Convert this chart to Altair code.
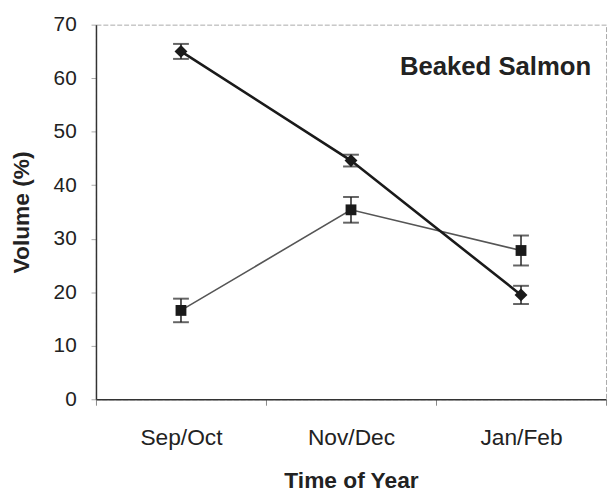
import altair as alt
import pandas as pd

periods = ["Sep/Oct", "Nov/Dec", "Jan/Feb"]
diamond_mean = [65.0, 44.6, 19.5]
diamond_err = [1.4, 1.1, 1.7]
square_mean = [16.6, 35.4, 27.8]
square_err = [2.2, 2.4, 2.8]
y_ticks = [0, 10, 20, 30, 40, 50, 60, 70]
label_text = "Beaked Salmon"

FONT = "Liberation Sans"


def frame(mean, err):
    return pd.DataFrame({
        "period": periods,
        "mean": mean,
        "lo": [m - e for m, e in zip(mean, err)],
        "hi": [m + e for m, e in zip(mean, err)],
    })


x_enc = alt.X(
    "period:N",
    sort=periods,
    scale=alt.Scale(type="band", paddingInner=0, paddingOuter=0),
    axis=alt.Axis(
        title="Time of Year",
        labelAngle=0,
        tickBand="extent",
        tickSize=6,
        tickColor="#888",
        domainColor="#333",
        domainWidth=1.5,
        labelFont=FONT,
        labelFontSize=23,
        labelColor="#222",
        labelBaseline="alphabetic",
        labelPadding=40,
        titleFont=FONT,
        titleFontSize=23,
        titleFontWeight="bold",
        titleColor="#222",
        titleY=89,
        titleBaseline="alphabetic",
        grid=False,
    ),
)

y_scale = alt.Scale(domain=[0, 70], nice=False)
y_axis = alt.Axis(
    values=y_ticks,
    title="Volume (%)",
    tickSize=5,
    tickColor="#aaa",
    domainColor="#333",
    domainWidth=1.5,
    labelFont=FONT,
    labelFontSize=21,
    labelColor="#222",
    labelPadding=15,
    titleFont=FONT,
    titleFontSize=23,
    titleFontWeight="bold",
    titleColor="#222",
    titleAngle=270,
    titleX=-75,
    titleY=189.5,
    titleBaseline="middle",
    titleAlign="center",
    grid=False,
)


def series(mean, err, shape, size, line_color, line_width):
    df = frame(mean, err)
    base = alt.Chart(df)
    line = base.mark_line(color=line_color, strokeWidth=line_width).encode(
        x=x_enc, y=alt.Y("mean:Q", scale=y_scale, axis=y_axis)
    )
    rule = base.mark_rule(color="#222", strokeWidth=1.5).encode(
        x=x_enc, y=alt.Y("lo:Q", scale=y_scale), y2="hi:Q"
    )
    tick_lo = base.mark_tick(color="#222", size=16, thickness=2).encode(
        x=x_enc, y=alt.Y("lo:Q", scale=y_scale)
    )
    tick_hi = base.mark_tick(color="#222", size=16, thickness=2).encode(
        x=x_enc, y=alt.Y("hi:Q", scale=y_scale)
    )
    pts = base.mark_point(shape=shape, filled=True, size=size, color="#1a1a1a", opacity=1).encode(
        x=x_enc, y=alt.Y("mean:Q", scale=y_scale)
    )
    return [line, rule, tick_lo, tick_hi, pts]


layers = []
layers += series(square_mean, square_err, "square", 120, "#555", 1.6)
layers += series(diamond_mean, diamond_err, "diamond", 170, "#1a1a1a", 2.6)

label = alt.Chart(pd.DataFrame({"t": [label_text]})).mark_text(
    align="right", baseline="alphabetic", font=FONT, fontSize=26,
    fontWeight="bold", color="#222"
).encode(text="t:N", x=alt.value(501), y=alt.value(51))

chart = alt.layer(*layers, label).properties(
    width=516,
    height=379,
    autosize=alt.AutoSizeParams(type="none"),
    padding={"left": 89, "top": 14, "right": 2, "bottom": 95},
    background="white",
).configure_view(stroke="#aaa", strokeWidth=1, strokeDash=[5, 2])

chart.save("out.html", embed_options={"renderer": "svg", "actions": False})
